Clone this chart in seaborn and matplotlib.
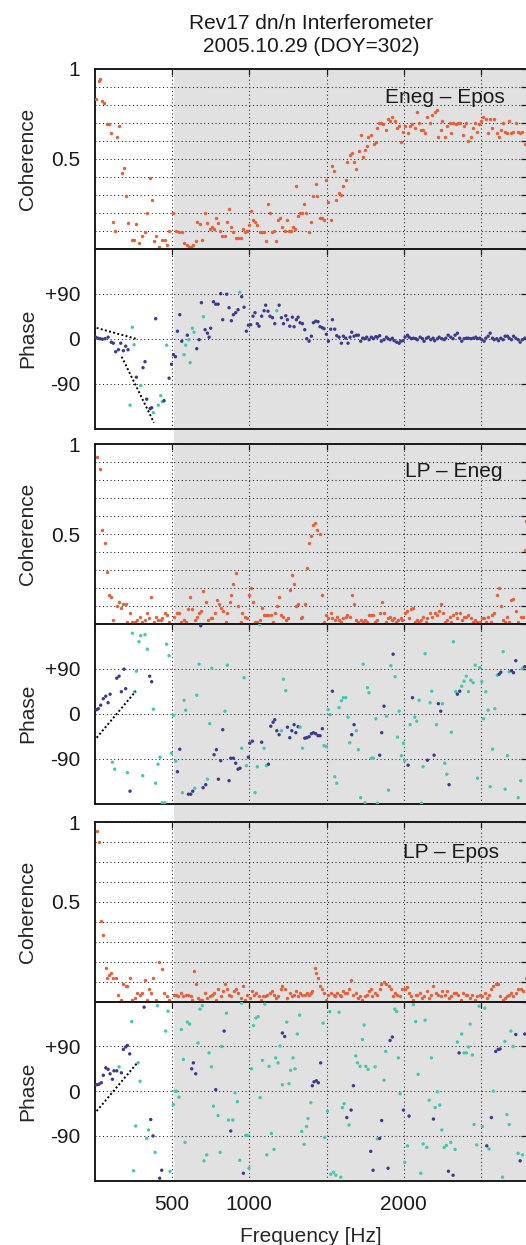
import numpy as np
import pandas as pd
import matplotlib
matplotlib.use("Agg")
import matplotlib.pyplot as plt
import seaborn as sns
from matplotlib.patches import Rectangle
from matplotlib.transforms import blended_transform_factory
from matplotlib.ticker import FixedLocator, FixedFormatter

sns.set_theme(style="white")
plt.rcParams["font.family"] = ["Liberation Sans", "DejaVu Sans"]

# ---------------- text ----------------
TITLE = "Rev17 dn/n Interferometer\n2005.10.29 (DOY=302)"
PAIR_LABELS = ["Eneg \u2013 Epos", "LP \u2013 Eneg", "LP \u2013 Epos"]
X_LABEL = "Frequency [Hz]"
X_TICKS = [500, 1000, 1500, 2000, 2500]
X_TICK_LABELS = ["500", "1000", "", "2000", ""]
PHASE_TICKS = [-90, 0, 90]
PHASE_TICK_LABELS = ["-90", "0", "+90"]
SHADE_START = 513  # Hz

# ---------------- data: coherence (freq Hz, coherence) ----------------
COH1 = [(6,.83),(27,.93),(34,.94),(49,.82),(62,.81),(77,.69),(92,.69),(103,.64),(120,.15),(131,.10),
        (142,.62),(157,.68),(174,.42),(189,.45),(202,.29),(217,.14),(243,.05),(254,.05),(269,.135),(288,.03),
        (308,.07),(325,.09),(340,.20),(358,.39),(368,.27),(383,.04),(394,.07),(416,.01),(437,.05),(453,.05),
        (465,.02),(481,.10),(509,.20),(524,.10),(545,.09),(567,.09),(578,.03),(595,.02),(610,.01),(625,.01),
        (638,.02),(653,.04),(664,.15),(681,.135),(696,.05),(714,.20),(729,.14),(746,.11),(757,.12),(772,.11),
        (787,.17),(798,.14),(811,.10),(826,.07),(841,.07),(854,.15),(869,.22),(880,.12),(897,.09),(912,.06),
        (927,.06),(945,.06),(960,.11),(973,.09),(988,.10),(998,.13),(1009,.21),(1024,.16),(1037,.15),(1052,.13),
        (1068,.09),(1080,.09),(1096,.09),(1106,.04),(1121,.25),(1132,.20),(1145,.09),(1160,.10),(1171,.04),(1186,.16),
        (1199,.17),(1214,.12),(1229,.10),(1247,.16),(1257,.10),(1273,.10),(1285,.12),(1296,.11),(1303,.35),(1316,.18),
        (1329,.20),(1344,.20),(1355,.25),(1370,.20),(1387,.09),(1402,.15),(1415,.29),(1430,.36),(1441,.29),(1456,.17),
        (1469,.17),(1484,.16),(1499,.38),(1512,.26),(1527,.16),(1538,.46),(1549,.43),(1564,.27),(1581,.31),(1596,.30),
        (1609,.35),(1624,.38),(1635,.48),(1650,.52),(1663,.53),(1678,.48),(1693,.44),(1711,.54),(1721,.63),(1734,.51),
        (1747,.55),(1760,.57),(1771,.62),(1786,.63),(1808,.58),(1819,.59),(1829,.67),(1840,.70),(1855,.70),(1868,.69),
        (1883,.66),(1898,.72),(1911,.71),(1926,.73),(1942,.71),(1954,.67),(1970,.68),(1985,.59),(1998,.65),(2011,.68),
        (2028,.64),(2041,.68),(2056,.69),(2071,.67),(2084,.76),(2099,.70),(2114,.66),(2127,.66),(2138,.64),(2153,.73),
        (2170,.70),(2185,.74),(2200,.76),(2213,.77),(2224,.62),(2239,.66),(2250,.71),(2267,.62),(2282,.68),(2297,.70),
        (2308,.64),(2321,.70),(2336,.69),(2354,.70),(2365,.70),(2380,.63),(2390,.68),(2405,.70),(2418,.60),(2434,.62),
        (2449,.67),(2462,.70),(2477,.65),(2487,.69),(2498,.71),(2513,.73),(2531,.72),(2546,.64),(2559,.72),(2574,.67),
        (2585,.72),(2600,.64),(2613,.62),(2628,.66),(2643,.70),(2656,.65),(2671,.64),(2682,.71),(2697,.64),(2710,.65),
        (2725,.70),(2736,.65),(2753,.64),(2768,.65),(2783,.58)]

COH2 = [(12,.93),(34,.86),(49,.52),(64,.45),(77,.29),(92,.16),(103,.15),(120,.02),(142,.10),(157,.12),
        (172,.09),(185,.11),(200,.11),(211,.01),(228,.06),(243,.01),(258,.01),(276,.02),(293,.04),(308,.01),
        (323,.02),(336,.06),(351,.03),(366,.15),(383,.01),(394,.04),(409,.02),(427,.02),(437,.03),(453,.06),
        (465,.05),(481,.01),(513,.04),(530,.06),(545,.06),(560,.01),(578,.02),(588,.01),(606,.08),(617,.15),
        (632,.08),(647,.02),(660,.04),(675,.06),(690,.07),(703,.18),(718,.12),(733,.02),(750,.03),(761,.03),
        (776,.06),(793,.13),(804,.11),(819,.09),(832,.07),(847,.01),(858,.06),(873,.12),(884,.16),(897,.22),
        (912,.28),(927,.10),(945,.01),(955,.06),(973,.04),(988,.03),(998,.16),(1009,.20),(1024,.12),(1037,.01),
        (1052,.01),(1068,.02),(1080,.09),(1096,.05),(1111,.05),(1124,.05),(1139,.05),(1154,.01),(1167,.06),(1182,.10),
        (1193,.15),(1208,.05),(1221,.04),(1236,.02),(1251,.03),(1262,.19),(1275,.27),(1290,.22),(1305,.10),(1318,.11),
        (1333,.03),(1344,.04),(1359,.11),(1372,.31),(1387,.45),(1398,.49),(1413,.55),(1426,.56),(1441,.52),(1456,.50),
        (1469,.16),(1484,.01),(1499,.05),(1512,.03),(1527,.06),(1538,.03),(1553,.02),(1566,.04),(1581,.02),(1596,.01),
        (1609,.03),(1624,.04),(1635,.05),(1650,.04),(1663,.16),(1678,.11),(1693,.02),(1706,.01),(1721,.02),(1737,.01),
        (1749,.02),(1760,.01),(1775,.05),(1786,.05),(1801,.05),(1814,.01),(1829,.02),(1844,.06),(1857,.12),(1872,.06),
        (1888,.01),(1898,.03),(1911,.04),(1926,.02),(1937,.03),(1952,.01),(1965,.02),(1980,.03),(1991,.02),(2006,.06),
        (2019,.07),(2034,.03),(2045,.08),(2060,.09),(2071,.01),(2088,.02),(2099,.01),(2114,.02),(2127,.04),(2142,.01),
        (2153,.03),(2170,.06),(2185,.04),(2200,.06),(2213,.05),(2229,.07),(2239,.11),(2254,.06),(2267,.01),(2282,.02),
        (2297,.04),(2308,.01),(2321,.05),(2336,.06),(2347,.03),(2362,.06),(2375,.02),(2390,.04),(2405,.04),(2418,.05),
        (2434,.03),(2449,.01),(2462,.02),(2477,.01),(2492,.01),(2505,.03),(2520,.03),(2531,.01),(2546,.04),(2563,.01),
        (2574,.05),(2585,.06),(2600,.16),(2613,.20),(2628,.10),(2643,.02),(2656,.01),(2671,.04),(2682,.01),(2693,.13),
        (2710,.14),(2725,.07),(2740,.01),(2757,.04),(2774,.04),(2783,.41),(2790,.57)]

COH3 = [(12,.95),(27,.89),(42,.45),(55,.37),(71,.19),(81,.13),(92,.15),(107,.16),(120,.13),(135,.13),
        (150,.04),(168,.01),(185,.10),(200,.09),(211,.09),(228,.13),(243,.01),(258,.02),(276,.05),(291,.04),
        (308,.05),(323,.12),(336,.01),(351,.07),(362,.05),(379,.13),(394,.01),(416,.22),(433,.18),(448,.05),
        (465,.03),(481,.01),(513,.04),(524,.04),(539,.03),(556,.05),(573,.03),(588,.04),(606,.04),(621,.03),
        (632,.01),(642,.17),(655,.10),(668,.02),(681,.01),(696,.01),(714,.05),(729,.02),(744,.03),(757,.04),
        (772,.05),(787,.01),(800,.07),(815,.03),(830,.06),(843,.10),(858,.07),(869,.04),(884,.03),(901,.06),
        (916,.07),(929,.05),(945,.02),(960,.09),(973,.01),(988,.04),(1003,.02),(1016,.06),(1031,.04),(1046,.05),
        (1063,.03),(1074,.01),(1089,.03),(1102,.03),(1117,.04),(1132,.05),(1150,.06),(1160,.04),(1175,.02),(1188,.03),
        (1203,.07),(1214,.09),(1229,.07),(1247,.02),(1262,.05),(1275,.03),(1290,.04),(1301,.06),(1316,.03),(1329,.05),
        (1344,.04),(1359,.04),(1372,.05),(1387,.04),(1398,.05),(1408,.06),(1424,.19),(1434,.16),(1447,.13),(1458,.09),
        (1473,.07),(1484,.05),(1499,.01),(1512,.04),(1527,.05),(1545,.04),(1555,.03),(1570,.05),(1585,.04),(1596,.03),
        (1609,.06),(1620,.05),(1631,.05),(1646,.07),(1661,.12),(1674,.04),(1689,.05),(1704,.02),(1717,.03),(1732,.01),
        (1747,.03),(1760,.04),(1775,.06),(1786,.07),(1797,.03),(1812,.05),(1829,.04),(1844,.07),(1855,.10),(1872,.11),
        (1888,.10),(1901,.09),(1916,.07),(1931,.03),(1944,.05),(1959,.04),(1976,.03),(1991,.07),(2006,.07),(2019,.08),
        (2034,.05),(2049,.03),(2062,.01),(2077,.04),(2088,.04),(2106,.05),(2116,.02),(2131,.03),(2147,.06),(2164,.02),
        (2179,.04),(2192,.09),(2207,.05),(2222,.04),(2239,.03),(2250,.06),(2265,.04),(2278,.06),(2293,.02),(2308,.03),
        (2326,.05),(2341,.05),(2354,.04),(2369,.01),(2384,.05),(2401,.04),(2412,.04),(2429,.02),(2444,.04),(2462,.01),
        (2477,.03),(2492,.04),(2509,.03),(2524,.05),(2537,.02),(2552,.04),(2567,.07),(2580,.09),(2595,.10),(2611,.10),
        (2623,.03),(2639,.01),(2654,.02),(2667,.03),(2682,.04),(2697,.05),(2710,.03),(2725,.05),(2740,.07),(2757,.07),
        (2774,.06),(2790,.13)]

# ---------------- data: phase (freq Hz, phase deg, N = coherent / C = incoherent) ----------------
PH1 = [(6,3,'N'),(21,1,'N'),(34,0,'N'),(49,-1,'N'),(66,0,'N'),(86,3,'N'),(107,-7,'N'),(120,-9,'N'),(135,-26,'N'),(153,-22,'N'),
       (168,-9,'N'),(185,-24,'N'),(200,-15,'N'),(215,-22,'N'),(228,-133,'C'),(243,23,'C'),(254,-12,'C'),(269,-77,'N'),(297,-94,'C'),(312,-58,'N'),
       (325,-46,'N'),(336,-121,'N'),(358,-140,'N'),(368,-138,'N'),(379,-148,'C'),(394,40,'N'),(411,-133,'C'),(427,-114,'C'),(437,-126,'C'),(448,-124,'N'),
       (465,-13,'C'),(481,-79,'N'),(496,-51,'N'),(509,-32,'N'),(522,-36,'N'),(535,15,'N'),(550,48,'N'),(563,-5,'N'),(578,-32,'C'),(588,-13,'C'),
       (599,7,'N'),(608,-2,'C'),(617,-48,'C'),(632,21,'C'),(642,13,'C'),(660,-20,'N'),(675,-2,'N'),(690,72,'N'),(703,44,'C'),(714,18,'N'),
       (729,11,'N'),(740,3,'N'),(750,21,'N'),(768,74,'N'),(783,69,'N'),(798,69,'N'),(815,90,'N'),(828,38,'N'),(854,89,'N'),(869,62,'N'),
       (884,36,'N'),(897,48,'N'),(912,52,'N'),(927,58,'N'),(938,93,'C'),(951,84,'N'),(966,63,'N'),(981,15,'N'),(994,27,'N'),(1009,28,'N'),
       (1024,45,'N'),(1037,52,'N'),(1052,30,'N'),(1063,25,'N'),(1080,45,'N'),(1096,56,'N'),(1106,67,'N'),(1121,55,'N'),(1134,45,'N'),(1150,42,'N'),
       (1165,30,'N'),(1178,56,'C'),(1193,67,'N'),(1208,42,'N'),(1221,30,'N'),(1236,46,'N'),(1247,38,'N'),(1262,25,'N'),(1279,43,'N'),(1290,24,'N'),
       (1305,38,'N'),(1316,43,'N'),(1329,32,'N'),(1344,30,'N'),(1359,18,'N'),(1372,0,'N'),(1387,-5,'N'),(1402,5,'N'),(1415,32,'N'),(1430,35,'N'),
       (1445,34,'N'),(1458,24,'N'),(1473,22,'N'),(1484,20,'N'),(1499,9,'N'),(1512,-5,'N'),(1527,19,'N'),(1538,38,'N'),(1553,19,'N'),(1566,6,'N'),
       (1581,3,'N'),(1596,-9,'N'),(1609,5,'N'),(1624,1,'N'),(1639,-9,'N'),(1652,3,'N'),(1663,13,'N'),(1678,5,'N'),(1693,7,'N'),(1706,7,'N'),
       (1721,-5,'N'),(1734,1,'N'),(1747,0,'N'),(1760,3,'N'),(1775,-2,'N'),(1790,3,'N'),(1803,0,'N'),(1819,4,'N'),(1829,3,'N'),(1844,6,'N'),
       (1855,-5,'N'),(1872,-2,'N'),(1888,3,'N'),(1898,0,'N'),(1911,-2,'N'),(1926,1,'N'),(1937,-4,'N'),(1954,-7,'N'),(1970,-9,'N'),(1980,-5,'N'),
       (1995,-4,'N'),(2008,3,'N'),(2024,7,'N'),(2034,3,'N'),(2049,0,'N'),(2062,1,'N'),(2077,0,'N'),(2088,-2,'N'),(2106,3,'N'),(2121,0,'N'),
       (2131,-5,'N'),(2147,1,'N'),(2160,3,'N'),(2175,-2,'N'),(2190,1,'N'),(2200,-4,'N'),(2218,0,'N'),(2229,3,'N'),(2246,0,'N'),(2261,-2,'N'),
       (2272,1,'N'),(2287,7,'N'),(2304,3,'N'),(2319,0,'N'),(2332,7,'N'),(2347,11,'N'),(2362,1,'N'),(2375,-5,'N'),(2390,0,'N'),(2405,1,'N'),
       (2418,1,'N'),(2434,0,'N'),(2449,1,'N'),(2466,3,'N'),(2477,0,'N'),(2492,1,'N'),(2505,-2,'N'),(2520,-5,'N'),(2531,1,'N'),(2546,5,'N'),
       (2559,11,'N'),(2574,1,'N'),(2585,-2,'N'),(2602,0,'N'),(2613,-4,'N'),(2628,1,'N'),(2643,-2,'N'),(2656,5,'N'),(2671,5,'N'),(2682,1,'N'),
       (2697,-2,'N'),(2710,5,'N'),(2725,1,'N'),(2740,-2,'N'),(2753,-7,'N'),(2768,-2,'N'),(2783,1,'N')]

PH2 = [(12,8,'N'),(23,10,'N'),(38,17,'N'),(55,30,'N'),(71,35,'N'),(86,22,'N'),(99,39,'N'),(114,-97,'C'),(129,-111,'C'),(142,71,'N'),
       (157,75,'N'),(172,44,'N'),(189,89,'N'),(200,50,'N'),(211,-118,'C'),(228,-155,'N'),(243,161,'C'),(258,44,'C'),(269,85,'C'),(286,144,'C'),
       (297,156,'C'),(310,-124,'C'),(325,158,'C'),(340,129,'C'),(355,75,'N'),(368,64,'N'),(379,9,'C'),(394,-139,'C'),(409,-101,'C'),(422,-87,'C'),
       (437,-178,'C'),(453,-178,'C'),(465,139,'C'),(481,116,'C'),(496,-79,'C'),(509,-3,'C'),(524,-95,'C'),(535,-116,'N'),(550,-71,'N'),(567,-158,'C'),
       (578,27,'C'),(588,7,'C'),(606,-161,'N'),(621,-161,'N'),(634,-155,'N'),(647,-149,'C'),(660,37,'C'),(675,99,'C'),(686,176,'N'),(701,-148,'N'),
       (718,-142,'N'),(729,-131,'C'),(744,-20,'C'),(757,91,'C'),(772,-82,'N'),(787,-72,'N'),(800,-131,'N'),(815,-94,'N'),(828,-32,'N'),(843,5,'C'),
       (858,97,'C'),(869,-134,'N'),(880,-89,'N'),(897,-89,'N'),(912,-99,'N'),(927,-111,'N'),(940,-109,'N'),(951,-69,'C'),(966,72,'C'),(981,-104,'C'),
       (994,-87,'N'),(1003,-59,'N'),(1020,-55,'N'),(1037,-158,'C'),(1052,-106,'C'),(1068,178,'C'),(1080,-57,'N'),(1096,-69,'C'),(1111,-104,'C'),(1124,-101,'N'),
       (1139,-25,'N'),(1154,-17,'N'),(1165,-12,'N'),(1178,-34,'N'),(1193,-42,'N'),(1208,-34,'C'),(1221,69,'C'),(1236,46,'C'),(1247,-27,'N'),(1262,-48,'N'),
       (1275,-34,'N'),(1290,-22,'N'),(1301,-38,'N'),(1316,-26,'N'),(1329,-27,'C'),(1344,-69,'C'),(1359,-49,'N'),(1372,-48,'N'),(1387,-46,'N'),(1402,-40,'N'),
       (1415,-38,'N'),(1430,-40,'N'),(1445,-44,'N'),(1458,-44,'N'),(1473,-30,'N'),(1484,-64,'C'),(1499,-66,'C'),(1510,8,'C'),(1523,-2,'C'),(1538,45,'N'),
       (1553,-126,'C'),(1566,-139,'C'),(1581,12,'C'),(1596,26,'C'),(1609,32,'C'),(1624,32,'C'),(1639,-7,'C'),(1650,-58,'C'),(1663,-42,'N'),(1678,-22,'N'),
       (1693,-34,'C'),(1706,-72,'C'),(1721,-168,'C'),(1737,99,'C'),(1749,-178,'C'),(1765,52,'C'),(1775,42,'C'),(1790,-89,'C'),(1803,-89,'C'),(1819,-10,'C'),
       (1829,-179,'C'),(1844,-83,'N'),(1857,-38,'N'),(1872,15,'N'),(1888,-5,'C'),(1901,-153,'C'),(1916,96,'C'),(1931,119,'N'),(1944,74,'C'),(1959,-47,'C'),
       (1970,5,'C'),(1985,-84,'C'),(1998,-59,'C'),(2006,-94,'C'),(2028,-103,'N'),(2041,-22,'C'),(2056,32,'N'),(2071,-7,'C'),(2084,-15,'C'),(2099,27,'C'),
       (2114,-179,'C'),(2125,-106,'C'),(2138,120,'C'),(2153,-93,'N'),(2170,22,'C'),(2181,45,'C'),(2196,-83,'N'),(2211,-22,'C'),(2224,20,'N'),(2239,5,'N'),
       (2250,20,'C'),(2265,-99,'C'),(2278,-121,'C'),(2293,-142,'N'),(2308,-37,'C'),(2321,144,'C'),(2336,44,'C'),(2347,39,'N'),(2362,45,'N'),(2375,55,'C'),
       (2390,65,'C'),(2405,75,'C'),(2418,44,'C'),(2434,67,'C'),(2449,62,'C'),(2462,97,'C'),(2477,-129,'C'),(2492,92,'C'),(2505,64,'C'),(2516,-10,'C'),
       (2531,44,'C'),(2546,7,'C'),(2559,-146,'C'),(2574,-71,'C'),(2589,10,'C'),(2606,77,'C'),(2617,79,'N'),(2628,83,'N'),(2643,124,'C'),(2656,-151,'C'),
       (2671,-84,'C'),(2682,84,'C'),(2697,86,'N'),(2710,82,'N'),(2725,106,'N'),(2740,-168,'C'),(2757,-134,'C'),(2768,91,'C'),(2783,94,'N')]

PH3 = [(12,13,'N'),(27,14,'N'),(42,17,'N'),(55,32,'N'),(71,47,'N'),(86,44,'N'),(99,35,'N'),(114,24,'N'),(124,41,'N'),(142,41,'N'),
       (157,49,'C'),(172,37,'N'),(185,84,'N'),(200,89,'N'),(211,92,'N'),(226,75,'N'),(239,140,'C'),(250,-160,'C'),(265,-70,'C'),(280,57,'C'),
       (293,20,'C'),(319,169,'N'),(336,-95,'C'),(347,-78,'C'),(362,-57,'N'),(377,-90,'N'),(390,-123,'C'),(405,172,'C'),(420,-175,'N'),(433,-159,'N'),
       (459,121,'C'),(474,161,'C'),(487,-161,'C'),(509,-27,'C'),(519,0,'C'),(530,0,'C'),(545,-12,'C'),(560,124,'C'),(573,64,'C'),(584,-103,'C'),
       (599,139,'C'),(614,135,'C'),(627,45,'N'),(638,57,'N'),(653,35,'N'),(668,97,'C'),(681,165,'C'),(696,172,'C'),(707,-140,'C'),(724,-128,'C'),
       (740,77,'C'),(755,49,'C'),(768,-30,'C'),(783,3,'N'),(798,-49,'C'),(811,-123,'C'),(822,90,'C'),(837,121,'N'),(852,157,'C'),(865,-58,'C'),
       (880,-80,'N'),(893,-58,'C'),(908,-3,'C'),(923,-21,'C'),(938,-139,'C'),(951,177,'C'),(962,-165,'N'),(977,-89,'C'),(988,-89,'C'),(998,-155,'C'),
       (1014,45,'C'),(1027,132,'C'),(1042,147,'C'),(1057,150,'C'),(1070,-13,'C'),(1085,62,'C'),(1100,175,'C'),(1113,-128,'C'),(1128,50,'C'),(1143,-85,'C'),
       (1160,-117,'C'),(1171,67,'C'),(1186,57,'C'),(1199,91,'C'),(1214,13,'C'),(1214,117,'N'),(1229,110,'N'),(1242,139,'C'),(1257,15,'C'),(1268,42,'C'),
       (1283,67,'C'),(1296,45,'C'),(1311,115,'C'),(1326,153,'C'),(1339,-81,'C'),(1355,-107,'C'),(1370,-71,'C'),(1380,-55,'C'),(1398,-23,'C'),(1408,11,'N'),
       (1419,19,'N'),(1434,21,'N'),(1447,17,'N'),(1462,57,'N'),(1478,137,'C'),(1488,-93,'C'),(1506,-40,'C'),(1521,160,'C'),(1527,-167,'C'),(1545,-163,'C'),
       (1560,-169,'C'),(1581,159,'C'),(1592,-173,'C'),(1603,-33,'C'),(1614,-25,'C'),(1631,-53,'N'),(1646,-68,'C'),(1659,-38,'N'),(1674,11,'N'),(1689,71,'C'),
       (1700,57,'C'),(1717,50,'C'),(1732,104,'C'),(1743,133,'C'),(1754,50,'C'),(1769,44,'C'),(1786,-121,'N'),(1801,-159,'N'),(1814,49,'C'),(1829,-96,'C'),
       (1844,-95,'N'),(1857,-59,'N'),(1872,22,'C'),(1883,80,'C'),(1898,-155,'N'),(1911,102,'N'),(1926,109,'N'),(1942,165,'C'),(1954,160,'C'),(1965,67,'C'),
       (1976,-5,'C'),(1998,-38,'N'),(2006,-143,'C'),(2024,-110,'C'),(2034,-50,'N'),(2062,174,'C'),(2077,140,'C'),(2093,34,'C'),(2110,-165,'C'),(2125,-106,'C'),
       (2138,143,'C'),(2149,-113,'C'),(2164,-18,'C'),(2179,67,'C'),(2192,-56,'N'),(2203,-33,'C'),(2218,-1,'C'),(2233,-28,'C'),(2246,-78,'C'),(2261,-113,'C'),
       (2276,-109,'C'),(2289,-161,'N'),(2304,-103,'C'),(2319,-169,'N'),(2332,-117,'C'),(2347,99,'C'),(2358,77,'N'),(2375,115,'C'),(2390,77,'C'),(2405,77,'C'),
       (2418,89,'C'),(2429,135,'C'),(2444,73,'C'),(2455,-67,'C'),(2472,-108,'C'),(2487,171,'C'),(2509,-71,'C'),(2524,167,'C'),(2537,-110,'N'),(2552,-116,'C'),
       (2567,-53,'N'),(2580,0,'C'),(2595,80,'N'),(2611,84,'N'),(2623,85,'N'),(2639,-173,'C'),(2654,100,'C'),(2667,-47,'C'),(2682,-67,'C'),(2693,121,'C'),
       (2708,90,'C'),(2725,114,'N'),(2740,-125,'C'),(2753,-140,'N'),(2768,-128,'C'),(2783,115,'N')]

# dotted reference slopes in the phase panels: (f0, f1), (phi0, phi1)
SLOPES1 = [((12, 265), (21.5, 0)), ((174, 383), (-36, -168))]
SLOPES2 = [((12, 265), (-48, 45))]
SLOPES3 = [((12, 280), (-40, 59))]

# ---------------- style ----------------
COH_COLOR = "#e5603a"
PHASE_PALETTE = {"N": "#3b3b8e", "C": "#45c8b0"}
SHADE_COLOR = "#e1e1e1"
FS = 15

W, H = 526, 1245
fig = plt.figure(figsize=(W / 100, H / 100), dpi=100)
fig.patch.set_facecolor("white")

left_px, right_px = 94.8, 527.4
bounds = [(68.7, 248.7), (248.7, 428.7), (444.3, 623.7),
          (623.7, 803.7), (822.0, 1001.7), (1001.7, 1180.7)]
axes = []
for top, bot in bounds:
    ax = fig.add_axes([left_px / W, 1 - bot / H, (right_px - left_px) / W, (bot - top) / H])
    ax.set_facecolor("none")
    axes.append(ax)

grid_kw = dict(color="#222222", linestyle=(0, (1, 2.6)), linewidth=0.75)

coh_sets = [COH1, COH2, COH3]
ph_sets = [PH1, PH2, PH3]
slopes = [SLOPES1, SLOPES2, SLOPES3]

for i in range(3):
    axc = axes[2 * i]
    axp = axes[2 * i + 1]

    dfc = pd.DataFrame(coh_sets[i], columns=["freq", "coh"])
    sns.scatterplot(data=dfc, x="freq", y="coh", ax=axc, color=COH_COLOR,
                    s=6, linewidth=0, legend=False, zorder=3)
    axc.set_ylim(0, 1)

    dfp = pd.DataFrame(ph_sets[i], columns=["freq", "phase", "kind"])
    sns.scatterplot(data=dfp, x="freq", y="phase", hue="kind", palette=PHASE_PALETTE,
                    ax=axp, s=6, linewidth=0, legend=False, zorder=3)
    for (fx, py) in slopes[i]:
        axp.plot(list(fx), list(py), color="black", linestyle=(0, (1, 1.2)),
                 linewidth=1.4, zorder=4)
    axp.set_ylim(-180, 180)

    # coherence y ticks
    if i < 2:
        cticks = [k / 10 for k in range(11)]
        clabels = ["" for _ in cticks]
        clabels[5] = "0.5"
        clabels[10] = "1"
    else:
        cticks = [k / 9 for k in range(10)]
        clabels = ["" for _ in cticks]
        clabels[5] = "0.5"
        clabels[9] = "1"
    axc.yaxis.set_major_locator(FixedLocator(cticks))
    axc.yaxis.set_major_formatter(FixedFormatter(clabels))
    axp.yaxis.set_major_locator(FixedLocator(PHASE_TICKS))
    axp.yaxis.set_major_formatter(FixedFormatter(PHASE_TICK_LABELS))

    axc.set_ylabel("Coherence", fontsize=FS)
    axp.set_ylabel("Phase", fontsize=FS)

for ax in axes:
    ax.set_xlim(0, 2800)
    ax.xaxis.set_major_locator(FixedLocator(X_TICKS))
    ax.xaxis.set_major_formatter(FixedFormatter(X_TICK_LABELS))
    ax.grid(True, which="major", **grid_kw)
    ax.set_axisbelow(True)
    ax.tick_params(direction="in", length=4.3, width=0.9, top=True, right=True,
                   labelsize=FS, pad=10.5, colors="#1a1a1a")
    ax.tick_params(axis="x", labelbottom=False)
    for sp in ax.spines.values():
        sp.set_visible(True)
        sp.set_linewidth(1.4)
        sp.set_color("#1a1a1a")
    ax.yaxis.set_label_coords(-0.133, 0.5)
    ax.set_xlabel("")

axes[-1].tick_params(axis="x", labelbottom=True)
axes[-1].set_xlabel(X_LABEL, fontsize=FS, labelpad=9)

# pair labels
label_pos = [(2655, 0.84), (2636, 0.85), (2616, 0.83)]
for i, txt in enumerate(PAIR_LABELS):
    fx, fy = label_pos[i]
    axes[2 * i].text(fx, fy, txt, fontsize=FS, ha="right", va="center",
                     color="#1a1a1a", zorder=5)

axes[0].set_title(TITLE, fontsize=FS, pad=12, linespacing=1.3, color="#1a1a1a")

# grey shaded band from SHADE_START to the right edge, across all panels
top_f = 1 - bounds[0][0] / H
bot_f = 1 - bounds[-1][1] / H
trans = blended_transform_factory(axes[0].transData, fig.transFigure)
rect = Rectangle((SHADE_START, bot_f), 5000, top_f - bot_f, transform=trans,
                 facecolor=SHADE_COLOR, edgecolor="none", zorder=-1)
fig.add_artist(rect)

fig.savefig("out.png", dpi=100)
